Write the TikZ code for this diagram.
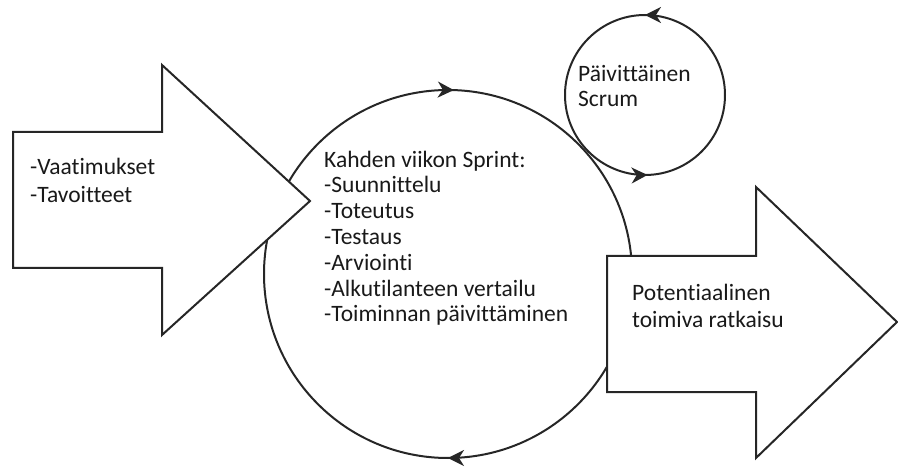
\documentclass[tikz,border=0pt]{standalone}
\usepackage{fontspec}
\setmainfont{Carlito}[Ligatures=NoCommon]
\usetikzlibrary{arrows.meta,decorations.markings}

\tikzset{
  outline/.style={draw=black!85, line width=2pt},
  bigarrow/.style={outline, fill=white, line join=miter},
  loop/.style={outline, postaction={decorate}},
  cyc/.tip={Stealth[length=16pt,width=16pt,inset=5pt]},
  % anchored at the baseline of the last line of each block
  label/.style={anchor=base west, align=left, inner sep=0pt, text=black!90},
}

\begin{document}
\begin{tikzpicture}[x=1pt, y=-1pt]
  \useasboundingbox (0,0) rectangle (898,468);

  % two-week sprint cycle (clockwise on the page)
  \draw[loop, decoration={markings,
        mark=at position 0.25 with {\arrow{cyc}},
        mark=at position 0.755 with {\arrow{cyc}}}]
    (448,274) ++(184,0) arc[start angle=0, end angle=360, radius=184];
  \coordinate (sprint) at (448,274);

  % daily scrum cycle (counter-clockwise on the page)
  \draw[loop, decoration={markings,
        mark=at position 0.25 with {\arrow{cyc}},
        mark=at position 0.755 with {\arrow{cyc}}}]
    (645,95) ++(80,0) arc[start angle=0, end angle=-360, radius=80];
  \coordinate (daily) at (645,95);

  % input arrow
  \draw[bigarrow] (13,132) -- (162,132) -- (162,65) -- (310,201)
                  -- (162,335) -- (162,268) -- (13,268) -- cycle;

  % output arrow
  \draw[bigarrow] (607,256) -- (756,256) -- (756,187) -- (897,322)
                  -- (756,458) -- (756,392) -- (607,392) -- cycle;

  % texts
  \node[label, font=\fontsize{23.5}{27.7}\selectfont] (input) at (30,202.7)
    {-Vaatimukset\\-Tavoitteet};
  \node[label, font=\fontsize{23.5}{25.8}\selectfont] (steps) at (324,321.8)
    {Kahden viikon Sprint:\\-Suunnittelu\\-Toteutus\\-Testaus\\-Arviointi\\-Alkutilanteen vertailu\\-Toiminnan päivittäminen};
  \node[label, font=\fontsize{23.5}{25}\selectfont] (scrum) at (578,107)
    {Päivittäinen\\Scrum};
  \node[label, font=\fontsize{23.5}{27}\selectfont] (result) at (632,327)
    {Potentiaalinen\\toimiva ratkaisu};
\end{tikzpicture}
\end{document}
